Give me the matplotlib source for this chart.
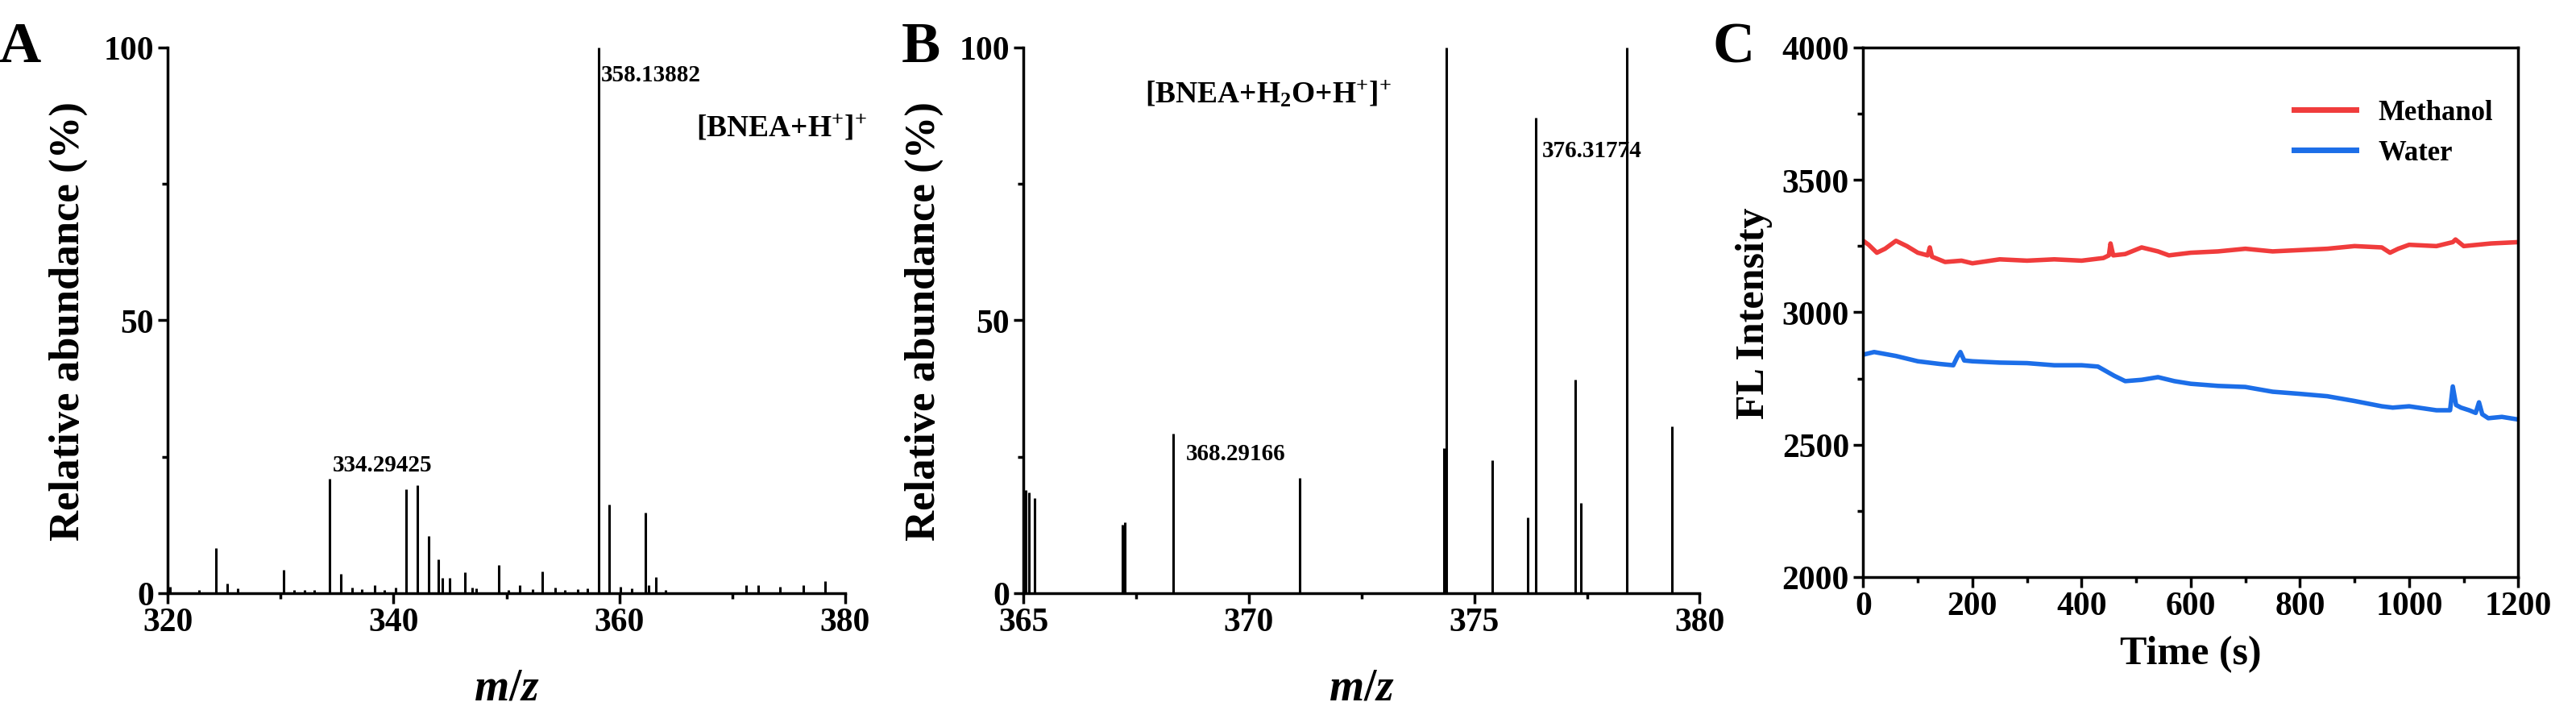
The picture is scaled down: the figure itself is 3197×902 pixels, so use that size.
import matplotlib.pyplot as plt
from matplotlib.ticker import MultipleLocator

plt.rcParams['font.family'] = ['Liberation Serif', 'DejaVu Serif']
plt.rcParams['font.weight'] = 'bold'
plt.rcParams['mathtext.fontset'] = 'custom'
plt.rcParams['mathtext.rm'] = 'Liberation Serif:bold'
plt.rcParams['mathtext.it'] = 'Liberation Serif:bold:italic'

# Panel A: MS peaks
mz_a = [320.2, 322.8, 324.3, 325.3, 326.2, 330.3, 331.2, 332.1, 333.0, 334.3, 335.3, 336.3,
        337.2, 338.3, 339.2, 340.2, 341.1, 342.1, 343.1, 344.0, 344.3, 345.0, 346.3, 347.0,
        347.3, 349.3, 350.2, 351.2, 352.3, 353.2, 354.3, 355.2, 356.3, 357.2, 358.14, 359.1,
        360.1, 361.1, 362.3, 362.6, 363.2, 364.1, 371.2, 372.3, 374.2, 376.3, 378.2]
ab_a = [1.2, 0.6, 8.3, 1.8, 0.8, 4.3, 0.6, 0.6, 0.5, 20.9, 3.5, 1.0,
        0.7, 1.5, 0.5, 1.0, 19.1, 19.8, 10.5, 6.2, 2.8, 2.8, 3.8, 1.0,
        0.8, 5.2, 0.6, 1.5, 0.7, 4.0, 1.0, 0.6, 0.7, 0.8, 100, 16.3,
        1.2, 0.8, 14.7, 1.5, 3.0, 0.6, 1.5, 1.5, 1.2, 1.5, 2.2]

# Panel B: MS peaks
mz_b = [365.05, 365.12, 365.25, 367.2, 367.25, 368.32, 371.13, 374.33, 374.38, 375.4,
        376.19, 376.36, 377.24, 377.37, 378.38, 379.38]
ab_b = [18.9, 18.5, 17.4, 12.6, 13.0, 29.2, 21.1, 26.5, 100, 24.3,
        13.9, 87.2, 39.1, 16.5, 100, 30.6]

# Panel C: fluorescence vs time
t_m = [0, 10, 25, 40, 60, 80, 100, 118, 122, 126, 150, 180, 200, 250, 300, 350, 400, 440,
       450, 453, 458, 480, 510, 540, 560, 600, 650, 700, 750, 800, 850, 900, 950, 965, 980,
       1000, 1050, 1080, 1085, 1100, 1150, 1200]
fl_m = [3270, 3255, 3225, 3240, 3270, 3250, 3225, 3215, 3245, 3210, 3190, 3195, 3185, 3200,
        3195, 3200, 3195, 3205, 3215, 3260, 3215, 3220, 3245, 3230, 3215, 3225, 3230, 3240,
        3230, 3235, 3240, 3250, 3245, 3225, 3240, 3255, 3250, 3265, 3275, 3250, 3260, 3265]
t_w = [0, 20, 60, 100, 140, 165, 172, 178, 185, 200, 250, 300, 350, 400, 430, 460, 480,
       510, 540, 570, 600, 650, 700, 750, 800, 850, 900, 950, 970, 1000, 1050, 1075, 1080,
       1086, 1095, 1110, 1122, 1128, 1134, 1145, 1170, 1200]
fl_w = [2840, 2850, 2835, 2815, 2805, 2800, 2830, 2850, 2818, 2815, 2810, 2808, 2800, 2800,
        2795, 2760, 2740, 2745, 2755, 2740, 2730, 2722, 2718, 2700, 2692, 2683, 2665, 2645,
        2640, 2645, 2630, 2630, 2720, 2650, 2640, 2630, 2620, 2660, 2615, 2600, 2605, 2595]

fig = plt.figure(figsize=(31.97, 9.03), dpi=100)
axA = fig.add_axes([0.0651, 0.184, 0.263, 0.7496])
axB = fig.add_axes([0.3973, 0.184, 0.2625, 0.7496])
axC = fig.add_axes([0.7233, 0.206, 0.2543, 0.7276])

tick_kw = dict(direction='out', width=2.5, labelsize=30)

for ax in (axA, axB):
    ax.vlines(mz_a if ax is axA else mz_b, 0, ab_a if ax is axA else ab_b,
              color='black', linewidth=2.2)
    ax.spines['top'].set_visible(False)
    ax.spines['right'].set_visible(False)
    for s in ('left', 'bottom'):
        ax.spines[s].set_linewidth(2.5)
    ax.set_ylim(0, 100)
    ax.yaxis.set_major_locator(MultipleLocator(50))
    ax.yaxis.set_minor_locator(MultipleLocator(25))
    ax.tick_params(which='major', length=9, **tick_kw)
    ax.tick_params(which='minor', length=5, direction='out', width=2.5)
    ax.set_ylabel('Relative abundance (%)', fontsize=38, fontweight='bold', labelpad=14)
    ax.set_xlabel('$m/z$', fontsize=40, labelpad=26)

axA.set_xlim(320, 380)
axA.xaxis.set_major_locator(MultipleLocator(20))
axA.xaxis.set_minor_locator(MultipleLocator(10))
axA.text(358.4, 94, '358.13882', fontsize=21, fontweight='bold')
axA.text(334.6, 22.5, '334.29425', fontsize=21, fontweight='bold')
axA.text(366.8, 84, r'[BNEA+H$^{+}$]$^{+}$', fontsize=27, fontweight='bold')
axA.text(-0.25, 1.0, 'A', transform=axA.transAxes, fontsize=52, fontweight='bold', va='center')

axB.set_xlim(365, 380)
axB.xaxis.set_major_locator(MultipleLocator(5))
axB.xaxis.set_minor_locator(MultipleLocator(2.5))
axB.text(368.6, 24.5, '368.29166', fontsize=21, fontweight='bold')
axB.text(376.5, 80, '376.31774', fontsize=21, fontweight='bold')
axB.text(367.7, 90, r'[BNEA+H$_{2}$O+H$^{+}$]$^{+}$', fontsize=27, fontweight='bold')
axB.text(-0.18, 1.0, 'B', transform=axB.transAxes, fontsize=52, fontweight='bold', va='center')

axC.plot(t_m, fl_m, color='#f03c3c', linewidth=4, label='Methanol')
axC.plot(t_w, fl_w, color='#1c6ee8', linewidth=4, label='Water')
axC.set_xlim(0, 1200)
axC.set_ylim(2000, 4000)
axC.xaxis.set_major_locator(MultipleLocator(200))
axC.xaxis.set_minor_locator(MultipleLocator(100))
axC.yaxis.set_major_locator(MultipleLocator(500))
axC.yaxis.set_minor_locator(MultipleLocator(250))
for s in axC.spines.values():
    s.set_linewidth(2.5)
axC.tick_params(which='major', length=9, **tick_kw)
axC.tick_params(which='minor', length=5, direction='out', width=2.5)
axC.set_xlabel('Time (s)', fontsize=36, fontweight='bold', labelpad=12)
axC.set_ylabel('FL Intensity', fontsize=36, fontweight='bold', labelpad=8)
leg = axC.legend(loc='upper right', frameon=False, fontsize=25, handlelength=2.2,
                 bbox_to_anchor=(1.0, 0.95))
for line in leg.get_lines():
    line.set_linewidth(5)
axC.text(-0.23, 1.0, 'C', transform=axC.transAxes, fontsize=52, fontweight='bold', va='center')

fig.savefig('out.png', dpi=100)
